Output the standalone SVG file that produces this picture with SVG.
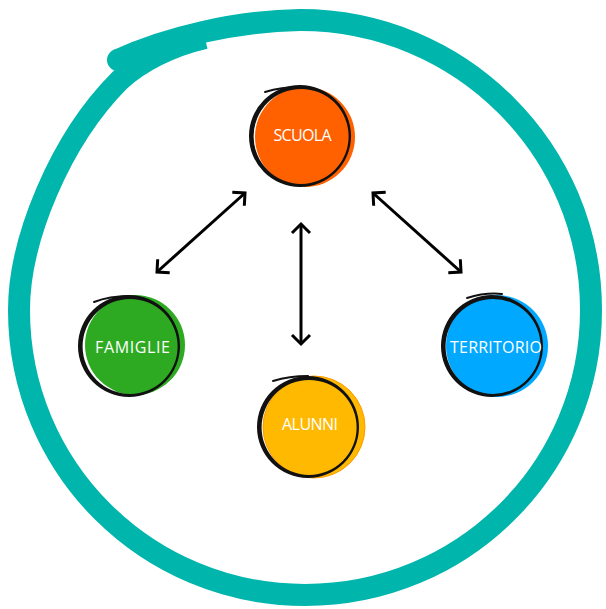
<svg xmlns="http://www.w3.org/2000/svg" width="606" height="609" viewBox="0 0 606 609">
  <defs>
    <style>
      .ring { fill: none; stroke: #00B5AC; stroke-width: 22; stroke-linecap: butt; stroke-linejoin: round; }
      .outline { fill: #111; fill-rule: evenodd; }
      .tail { fill: none; stroke: #111; stroke-width: 2; stroke-linecap: round; }
      .label { font-family: "Open Sans", "Liberation Sans", sans-serif; font-size: 16px; fill: #FFFFFF; text-anchor: middle; }
      .conn { fill: none; stroke: #000; stroke-width: 3; marker-start: url(#chev); marker-end: url(#chev); }
    </style>
    <marker id="chev" markerUnits="userSpaceOnUse" markerWidth="22" markerHeight="22" refX="11" refY="11" orient="auto-start-reverse" viewBox="0 0 22 22">
      <path d="M2,2 L11,11 L2,20" fill="none" stroke="#000" stroke-width="3" stroke-linejoin="miter"/>
    </marker>
  </defs>
  <rect width="606" height="609" fill="#FFFFFF"/>

  <g id="frame">
    <path class="ring" d="M 118 60 C 165 38 235 21 300 20 C 460.7 20 591 149.8 591 310 C 591 468 463 595 305 595 C 147 595 19 468 19 310 C 19 240 60 140 120 80 C 140 62 170 46 205 38"/>
    <circle cx="118" cy="60" r="11" fill="#00B5AC"/>
  </g>

  <g id="connectors">
    <line class="conn" x1="245" y1="193" x2="157" y2="272"/>
    <line class="conn" x1="301" y1="224" x2="301" y2="344"/>
    <line class="conn" x1="373" y1="193" x2="461" y2="272"/>
  </g>

  <g id="scuola">
    <circle cx="305" cy="137" r="50" fill="#FF6100"/>
    <path class="outline" d="M 249 136 a 51 51 0 1 0 102 0 a 51 51 0 1 0 -102 0 Z M 253.6 136.4 a 47.5 47.5 0 1 0 95 0 a 47.5 47.5 0 1 0 -95 0 Z"/>
    <path class="tail" d="M 265 92 C 278 88 290 87 300 87"/>
    <text class="label" x="302.5" y="141" textLength="58">SCUOLA</text>
  </g>

  <g id="famiglie">
    <circle cx="135" cy="345" r="50" fill="#2EAA22"/>
    <path class="outline" d="M 78 346 a 51 51 0 1 0 102 0 a 51 51 0 1 0 -102 0 Z M 82.6 346.4 a 47.5 47.5 0 1 0 95 0 a 47.5 47.5 0 1 0 -95 0 Z"/>
    <path class="tail" d="M 94 302 C 107 297 119 296 129 296"/>
    <text class="label" x="132.5" y="353" textLength="75">FAMIGLIE</text>
  </g>

  <g id="territorio">
    <circle cx="497" cy="346" r="51" fill="#00A9FF"/>
    <path class="outline" d="M 441 346 a 51 51 0 1 0 102 0 a 51 51 0 1 0 -102 0 Z M 445.6 346.4 a 47.5 47.5 0 1 0 95 0 a 47.5 47.5 0 1 0 -95 0 Z"/>
    <path class="tail" d="M 467 298 C 480 294 492 293 502 294"/>
    <text class="label" x="496" y="353" textLength="92">TERRITORIO</text>
  </g>

  <g id="alunni">
    <circle cx="314" cy="427" r="51" fill="#FFB900" stroke="#FF9A00" stroke-width="1"/>
    <path class="outline" d="M 257 427 a 51 51 0 1 0 102 0 a 51 51 0 1 0 -102 0 Z M 261.6 427.4 a 47.5 47.5 0 1 0 95 0 a 47.5 47.5 0 1 0 -95 0 Z"/>
    <path class="tail" d="M 273 381 C 286 377 298 376 308 376"/>
    <text class="label" x="310" y="430" textLength="56">ALUNNI</text>
  </g>
</svg>
